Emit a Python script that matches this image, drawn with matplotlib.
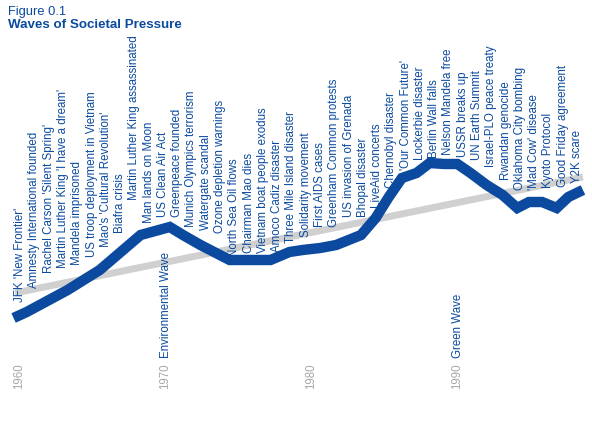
import numpy as np
import matplotlib.pyplot as plt

# %% Data (x in years, y in arbitrary pressure units)
wave_year = [1959.7, 1960.6, 1963.4, 1965.6, 1968.4, 1970.4, 1971.3, 1972.5, 1974.5, 1977.3,
             1978.6, 1979.5, 1980.7, 1981.8, 1983.5, 1984.5, 1985.4, 1986.3, 1987.3, 1988.2,
             1989.2, 1990.1, 1991.0, 1992.1, 1993.2, 1994.2, 1995.0, 1995.9, 1996.9, 1997.7, 1998.7]
wave_level = [116, 122, 144, 164, 199, 207, 199, 189, 174, 174,
              182, 184, 186, 189, 199, 216, 237, 256, 261, 271,
              270, 270, 261, 249, 239, 226, 232, 232, 226, 237, 244]
trend_year = [1959.8, 1998.7]
trend_level = [141, 257]

events = ["JFK 'New Frontier'", "Amnesty International founded", "Rachel Carson 'Silent Spring'",
          "Martin Luther King 'I have a dream'", "Mandela imprisoned", "US troop deployment in Vietnam",
          "Mao's 'Cultural Revolution'", "Biafra crisis", "Martin Luther King assassinated",
          "Man lands on Moon", "US Clean Air Act", "Greenpeace founded", "Munich Olympics terrorism",
          "Watergate scandal", "Ozone depletion warnings", "North Sea Oil flows", "Chairman Mao dies",
          "Vietnam boat people exodus", "Amoco Cadiz disaster", "Three Mile Island disaster",
          "Solidarity movement", "First AIDS cases", "Greenham Common protests", "US invasion of Grenada",
          "Bhopal disaster", "LiveAid concerts", "Chernobyl disaster", "'Our Common Future'",
          "Lockerbie disaster", "Berlin Wall falls", "Nelson Mandela free", "USSR breaks up",
          "UN Earth Summit", "Israel-PLO peace treaty", "Rwandan genocide", "Oklahoma City bombing",
          "'Mad Cow' disease", "Kyoto Protocol", "Good Friday agreement", "Y2K scare"]
decades = [1960, 1970, 1980, 1990]
waves = {1970: "Environmental Wave", 1990: "Green Wave"}

# label baseline heights (pixels from top of the picture)
label_bottom_px = [302, 288, 273, 268, 265, 257, 247, 233, 200, 223,
                   217, 217, 227, 230, 233, 257, 253, 253, 252, 243,
                   237, 227, 227, 217, 217, 208, 188, 170, 160, 158,
                   155, 157, 160, 167, 180, 190, 190, 188, 187, 183]

# %% Plot
blue = '#0b4a9e'
grey = '#a8a8a8'
plt.rcParams['font.family'] = ['Liberation Sans', 'DejaVu Sans']
fig = plt.figure(figsize=(5.92, 4.34), dpi=100)
ax = fig.add_axes([0, 0, 1, 1])
ax.set_xlim(1958.77, 1999.32)
ax.set_ylim(0, 434)
ax.axis('off')

ax.plot(trend_year, trend_level, color='#d0d0d0', lw=5, solid_capstyle='butt')
ax.plot(wave_year, wave_level, color=blue, lw=7.5, solid_capstyle='butt', solid_joinstyle='miter')

for i, (lbl, b) in enumerate(zip(events, label_bottom_px)):
    ax.text(1960.15 + 0.978 * i, 434 - b, lbl, rotation=90, ha='center', va='bottom',
            fontsize=8.3, color=blue)

for d in decades:
    ax.text(d + 0.1, 45, str(d), rotation=90, ha='center', va='bottom', fontsize=8.3, color=grey)
    if d in waves:
        ax.text(d + 0.15, 76, waves[d], rotation=90, ha='center', va='bottom',
                fontsize=8.3, color=blue)

fig.text(8 / 592, 1 - 12 / 434, 'Figure 0.1', fontsize=9.3, color=blue, va='center')
fig.text(8 / 592, 1 - 25 / 434, 'Waves of Societal Pressure', fontsize=9.6, color=blue,
         fontweight='bold', va='center')

fig.savefig('out.png', dpi=100)
